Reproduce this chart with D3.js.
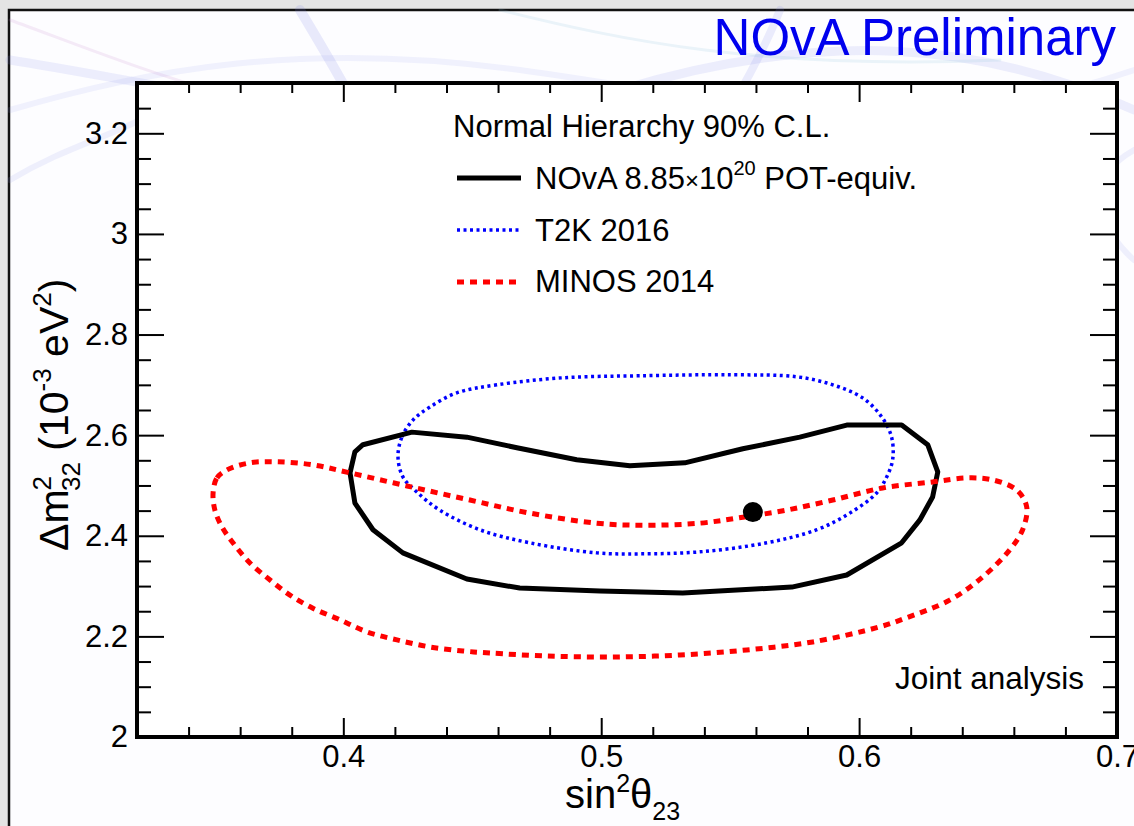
<!DOCTYPE html>
<html>
<head>
<meta charset="utf-8">
<script src="https://cdn.jsdelivr.net/npm/d3@7"></script>
<style>
  html, body { margin: 0; padding: 0; background: #e4e4e4; }
  svg { display: block; font-family: "Liberation Sans", Arial, sans-serif; }
</style>
</head>
<body>
<svg id="chart" width="1134" height="826"></svg>
<script>
// contour points [sin^2 theta23, dm^2_32 (1e-3 eV^2)]
const novaContour = [
  [0.4076, 2.581], [0.4266, 2.606], [0.4479, 2.596], [0.4673, 2.575], [0.4905, 2.551],
  [0.5111, 2.539], [0.5324, 2.545], [0.5549, 2.573], [0.5770, 2.596], [0.5952, 2.620],
  [0.6165, 2.620], [0.6266, 2.581], [0.6305, 2.527], [0.6285, 2.477], [0.6235, 2.431],
  [0.6165, 2.386], [0.5952, 2.322], [0.5739, 2.298], [0.5316, 2.286], [0.4995, 2.290],
  [0.4684, 2.296], [0.4479, 2.314], [0.4231, 2.366], [0.4115, 2.412], [0.4045, 2.465],
  [0.4026, 2.525], [0.4045, 2.567]
]

const t2kContour = [
  [0.4212, 2.557], [0.4227, 2.596], [0.4270, 2.630], [0.4336, 2.656], [0.4440, 2.684],
  [0.4595, 2.700], [0.4851, 2.714], [0.5150, 2.718], [0.5510, 2.720], [0.5758, 2.716],
  [0.5898, 2.700], [0.6014, 2.674], [0.6088, 2.636], [0.6126, 2.596], [0.6130, 2.551],
  [0.6107, 2.517], [0.6068, 2.485], [0.5964, 2.445], [0.5836, 2.412], [0.5642, 2.386],
  [0.5382, 2.368], [0.5150, 2.364], [0.4983, 2.366], [0.4723, 2.386], [0.4529, 2.412],
  [0.4374, 2.451], [0.4285, 2.487], [0.4231, 2.517]
]

const minosContour = [
  [0.3495, 2.485], [0.3510, 2.515], [0.3549, 2.531], [0.3638, 2.545], [0.3743, 2.547],
  [0.3882, 2.541], [0.4026, 2.525], [0.4247, 2.499], [0.4491, 2.471], [0.4723, 2.445],
  [0.4983, 2.425], [0.5150, 2.421], [0.5382, 2.425], [0.5549, 2.437], [0.5719, 2.451],
  [0.5898, 2.471], [0.6091, 2.495], [0.6285, 2.507], [0.6417, 2.515], [0.6518, 2.511],
  [0.6611, 2.491], [0.6650, 2.457], [0.6634, 2.412], [0.6584, 2.372], [0.6479, 2.318],
  [0.6351, 2.272], [0.6184, 2.237], [0.6080, 2.219], [0.5820, 2.189], [0.5564, 2.173],
  [0.5305, 2.163], [0.5045, 2.159], [0.4789, 2.161], [0.4568, 2.167], [0.4464, 2.171],
  [0.4336, 2.179], [0.4208, 2.193], [0.4091, 2.209], [0.3987, 2.233], [0.3882, 2.256],
  [0.3793, 2.282], [0.3716, 2.312], [0.3638, 2.346], [0.3572, 2.386], [0.3529, 2.418],
  [0.3502, 2.451]
]

const bestFit = [0.5588, 2.447]

const xMajorTicks = [0.4, 0.5, 0.6, 0.7]
const xMinorTicks = [0.34, 0.36, 0.38, 0.42, 0.44, 0.46, 0.48, 0.52, 0.54, 0.56, 0.58, 0.62, 0.64, 0.66, 0.68]
const yMajorTicks = [2, 2.2, 2.4, 2.6, 2.8, 3, 3.2]
const yMinorTicks = [2.05, 2.1, 2.15, 2.25, 2.3, 2.35, 2.45, 2.5, 2.55, 2.65, 2.7, 2.75, 2.85, 2.9, 2.95, 3.05, 3.1, 3.15, 3.25]

const svg = d3.select("#chart")

// slide background
svg.append("rect")
  .attr("x", 9).attr("y", 10).attr("width", 1130).attr("height", 820)
  .attr("fill", "#fdfdff")
  .attr("stroke", "#111").attr("stroke-width", 2.5)

// faint decorative swooshes of the slide template
const swoosh = svg.append("g").attr("fill", "none").attr("stroke-linecap", "round")
const swooshes = [
  ["M10,60 C200,90 420,150 620,90 S980,40 1134,110", "#8f96e8", 9, 0.15],
  ["M10,110 C150,70 300,40 520,70 S900,150 1134,70", "#9aa0ee", 6, 0.13],
  ["M300,10 C330,60 360,110 380,160", "#7c84e6", 10, 0.16],
  ["M780,10 C760,60 730,110 700,160", "#8088e8", 8, 0.15],
  ["M10,20 C120,60 260,120 430,130", "#c58bd0", 3, 0.16],
  ["M500,10 C620,40 760,70 1000,60", "#88c0d8", 3, 0.16],
  ["M1134,260 C1100,230 1080,180 1134,150", "#9aa0ee", 6, 0.15],
  ["M10,180 C60,150 100,140 140,120", "#9aa0ee", 6, 0.15]
]
swooshes.forEach(([d, c, w, o]) => {
  swoosh.append("path").attr("d", d).attr("stroke", c)
    .attr("stroke-width", w).attr("opacity", o)
})

// title
svg.append("text")
  .attr("x", 1116).attr("y", 55)
  .attr("text-anchor", "end")
  .attr("font-size", 51)
  .attr("fill", "#0000ee")
  .text("NOvA Preliminary")

const plotLeft = 137, plotRight = 1117, plotTop = 83, plotBottom = 737

const x = d3.scaleLinear().domain([0.32, 0.7]).range([plotLeft, plotRight])
const y = d3.scaleLinear().domain([2, 3.3]).range([plotBottom, plotTop])

// plot area
svg.append("rect")
  .attr("x", plotLeft).attr("y", plotTop)
  .attr("width", plotRight - plotLeft).attr("height", plotBottom - plotTop)
  .attr("fill", "white")

const fmt = d => d3.format("~g")(d)

function styleAxis(g) {
  g.select(".domain").remove()
  g.selectAll(".tick line").attr("stroke", "#000").attr("stroke-width", 2)
  g.selectAll(".tick text")
    .attr("font-size", 31)
    .attr("fill", "#000")
    .attr("font-family", "'Liberation Sans', Arial, sans-serif")
}

// x axes (ticks inward on bottom and top)
svg.append("g").attr("transform", `translate(0,${plotBottom})`)
  .call(d3.axisBottom(x).tickValues(xMajorTicks).tickSize(-19).tickPadding(8).tickFormat(fmt))
  .call(styleAxis)
svg.append("g").attr("transform", `translate(0,${plotBottom})`)
  .call(d3.axisBottom(x).tickValues(xMinorTicks).tickSize(-10).tickFormat(""))
  .call(styleAxis)
svg.append("g").attr("transform", `translate(0,${plotTop})`)
  .call(d3.axisTop(x).tickValues(xMajorTicks).tickSize(-19).tickFormat(""))
  .call(styleAxis)
svg.append("g").attr("transform", `translate(0,${plotTop})`)
  .call(d3.axisTop(x).tickValues(xMinorTicks).tickSize(-10).tickFormat(""))
  .call(styleAxis)

// y axes
svg.append("g").attr("transform", `translate(${plotLeft},0)`)
  .call(d3.axisLeft(y).tickValues(yMajorTicks).tickSize(-27).tickPadding(9).tickFormat(fmt))
  .call(styleAxis)
svg.append("g").attr("transform", `translate(${plotLeft},0)`)
  .call(d3.axisLeft(y).tickValues(yMinorTicks).tickSize(-14).tickFormat(""))
  .call(styleAxis)
svg.append("g").attr("transform", `translate(${plotRight},0)`)
  .call(d3.axisRight(y).tickValues(yMajorTicks).tickSize(-27).tickFormat(""))
  .call(styleAxis)
svg.append("g").attr("transform", `translate(${plotRight},0)`)
  .call(d3.axisRight(y).tickValues(yMinorTicks).tickSize(-14).tickFormat(""))
  .call(styleAxis)

// contours
const smooth = d3.line().x(d => x(d[0])).y(d => y(d[1])).curve(d3.curveCatmullRomClosed)
const poly = d3.line().x(d => x(d[0])).y(d => y(d[1])).curve(d3.curveLinearClosed)

const plot = svg.append("g")

plot.append("path")
  .attr("d", smooth(t2kContour))
  .attr("fill", "none")
  .attr("stroke", "#0000ff")
  .attr("stroke-width", 3.5)
  .attr("stroke-dasharray", "3,3.5")

plot.append("path")
  .attr("d", poly(novaContour))
  .attr("fill", "none")
  .attr("stroke", "#000")
  .attr("stroke-width", 5)
  .attr("stroke-linejoin", "round")

plot.append("path")
  .attr("d", smooth(minosContour))
  .attr("fill", "none")
  .attr("stroke", "#ff0000")
  .attr("stroke-width", 5)
  .attr("stroke-dasharray", "7,6")

plot.append("circle")
  .attr("cx", x(bestFit[0]))
  .attr("cy", y(bestFit[1]))
  .attr("r", 10)
  .attr("fill", "#000")

// frame
svg.append("rect")
  .attr("x", plotLeft).attr("y", plotTop)
  .attr("width", plotRight - plotLeft).attr("height", plotBottom - plotTop)
  .attr("fill", "none")
  .attr("stroke", "#000")
  .attr("stroke-width", 4)

// legend
const legend = svg.append("g").attr("font-size", 31).attr("fill", "#000")

legend.append("text").attr("x", 453).attr("y", 137).text("Normal Hierarchy 90% C.L.")

const legendRows = [
  { y: 178, stroke: "#000", width: 5, dash: null },
  { y: 230, stroke: "#0000ff", width: 3.5, dash: "3,3.5" },
  { y: 282, stroke: "#ff0000", width: 5, dash: "7,6" }
]
legendRows.forEach(r => {
  legend.append("line")
    .attr("x1", 457).attr("x2", 521)
    .attr("y1", r.y).attr("y2", r.y)
    .attr("stroke", r.stroke)
    .attr("stroke-width", r.width)
    .attr("stroke-dasharray", r.dash)
})

const t1 = legend.append("text").attr("x", 535).attr("y", 189)
t1.append("tspan").text("NOvA 8.85")
t1.append("tspan").attr("font-size", 24).text("\u00d7")
t1.append("tspan").text("10")
t1.append("tspan").attr("font-size", 20).attr("dy", -14).text("20")
t1.append("tspan").attr("dy", 14).text(" POT-equiv.")

legend.append("text").attr("x", 535).attr("y", 241).text("T2K 2016")
legend.append("text").attr("x", 535).attr("y", 292).text("MINOS 2014")

svg.append("text")
  .attr("x", 1084).attr("y", 689)
  .attr("text-anchor", "end")
  .attr("font-size", 31.5)
  .text("Joint analysis")

// axis titles
const xt = svg.append("text")
  .attr("x", 565).attr("y", 808)
  .attr("font-size", 40)
xt.append("tspan").text("sin")
xt.append("tspan").attr("font-size", 25).attr("dy", -16).text("2")
xt.append("tspan").attr("dy", 16).text("\u03b8")
xt.append("tspan").attr("font-size", 25).attr("dy", 12).text("23")

const yt = svg.append("text")
  .attr("transform", "translate(68,551) rotate(-90)")
  .attr("font-size", 41)
yt.append("tspan").text("\u0394m")
yt.append("tspan").attr("font-size", 26).attr("dy", -17).attr("dx", -1).text("2")
yt.append("tspan").attr("font-size", 26).attr("dy", 29).attr("dx", -15).text("32")
yt.append("tspan").attr("dy", -12).text(" (10")
yt.append("tspan").attr("font-size", 26).attr("dy", -17).text("-3")
yt.append("tspan").attr("dy", 17).text(" eV")
yt.append("tspan").attr("font-size", 26).attr("dy", -17).text("2")
yt.append("tspan").attr("dy", 17).text(")")
</script>
</body>
</html>
